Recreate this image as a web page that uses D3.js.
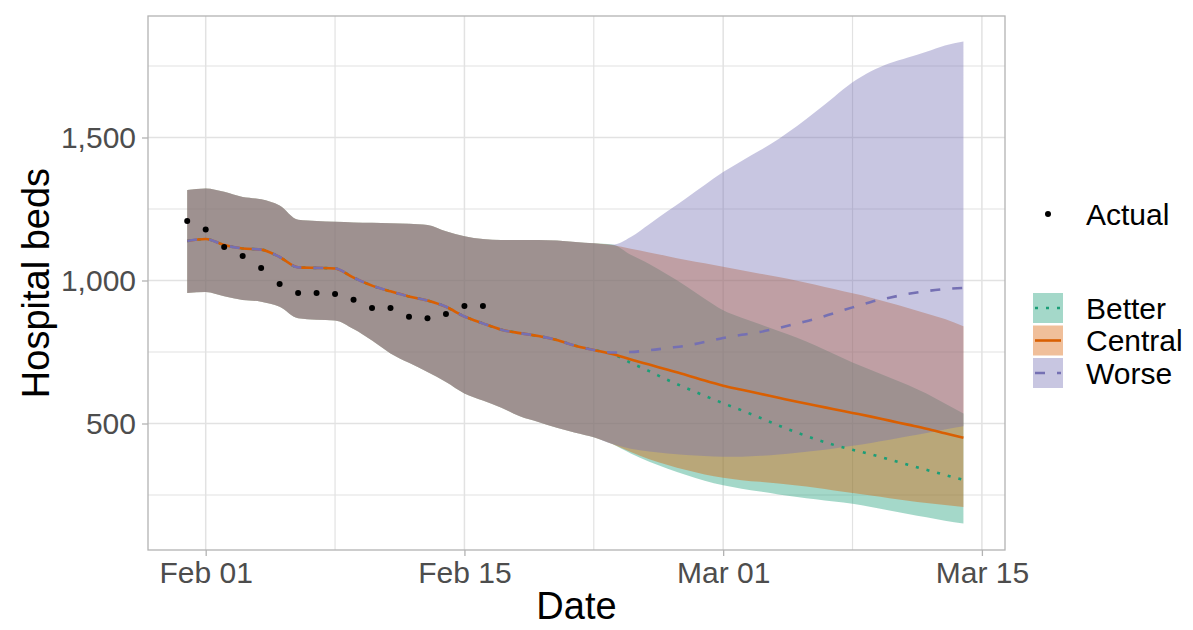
<!DOCTYPE html>
<html>
<head>
<meta charset="utf-8">
<script src="https://cdn.jsdelivr.net/npm/d3@7"></script>
<style>
  html, body { margin: 0; padding: 0; background: #ffffff; }
  svg { display: block; font-family: "Liberation Sans", Arial, sans-serif; }
</style>
</head>
<body>
<svg id="chart" width="1193" height="630"></svg>
<script>
// ---------------- DATA ----------------
const dates = [
  "2021-01-31","2021-02-01","2021-02-02","2021-02-03","2021-02-04","2021-02-05","2021-02-06",
  "2021-02-07","2021-02-08","2021-02-09","2021-02-10","2021-02-11","2021-02-12","2021-02-13",
  "2021-02-14","2021-02-15","2021-02-16","2021-02-17","2021-02-18","2021-02-19","2021-02-20",
  "2021-02-21","2021-02-22",
  "2021-02-23","2021-02-24","2021-02-25","2021-02-26","2021-02-27","2021-02-28","2021-03-01",
  "2021-03-02","2021-03-03","2021-03-04","2021-03-05","2021-03-06","2021-03-07","2021-03-08",
  "2021-03-09","2021-03-10","2021-03-11","2021-03-12","2021-03-13","2021-03-14"
];

// Shared fitted period (Jan 31 - Feb 22), identical for all scenarios
const sharedMedian = [1138,1145,1124,1112,1108,1082,1046,1044,1042,1010,982,962,944,930,908,874,850,828,816,806,792,772,757];
const sharedLower  = [956,960,945,932,926,908,868,863,860,830,790,745,712,680,645,605,580,555,525,505,485,468,452];
const sharedUpper  = [1316,1322,1310,1292,1284,1262,1212,1208,1205,1203,1202,1200,1198,1194,1172,1155,1145,1142,1142,1142,1140,1135,1130];

// Projection period (Feb 23 - Mar 14)
const betterMedian  = [743,712,683,652,624,597,571,546,520,493,468,445,425,408,392,374,356,338,320,303];
const betterLower   = [428,395,366,342,320,300,284,272,262,252,243,235,227,219,208,196,184,172,160,150];
const betterUpper   = [1126,1090,1058,1020,980,936,896,870,847,823,800,773,743,713,687,661,635,605,570,535];

const centralMedian = [743,724,706,688,670,650,632,618,604,590,576,563,550,537,524,510,496,482,466,450];
const centralLower  = [428,400,375,355,337,322,310,302,296,290,283,275,266,257,248,239,230,222,215,208];
const centralUpper  = [1124,1111,1098,1085,1072,1060,1048,1036,1024,1012,999,985,970,955,940,922,904,885,865,840];

const worseMedian   = [748,750,756,764,772,785,799,810,820,834,850,866,886,906,925,940,953,963,970,974];
const worseLower    = [428,412,402,395,390,386,384,384,387,392,398,405,413,422,432,443,455,467,479,490];
const worseUpper    = [1125,1152,1197,1243,1288,1334,1379,1418,1455,1495,1540,1590,1642,1693,1732,1760,1780,1800,1822,1836];

const actualDates  = ["2021-01-31","2021-02-01","2021-02-02","2021-02-03","2021-02-04","2021-02-05","2021-02-06",
                      "2021-02-07","2021-02-08","2021-02-09","2021-02-10","2021-02-11","2021-02-12","2021-02-13",
                      "2021-02-14","2021-02-15","2021-02-16"];
const actualValues = [1208,1178,1117,1086,1044,988,956,956,953,933,904,904,873,868,883,911,911];

const scenarioNames = ["Better","Central","Worse"];
const scenarioColors = ["#1B9E77","#D95F02","#7570B3"];
const xTickDates  = ["2021-02-01","2021-02-15","2021-03-01","2021-03-15"];
const xTickLabels = ["Feb 01","Feb 15","Mar 01","Mar 15"];
const xMinorDates = ["2021-02-08","2021-02-22","2021-03-08"];
const yTicks = [500,1000,1500];
const yMinor = [250,750,1250,1750];

// ---------------- BUILD ----------------
const parse = d3.timeParse("%Y-%m-%d");
const dateObjs = dates.map(parse);

function series(median, lower, upper) {
  const m = sharedMedian.concat(median), l = sharedLower.concat(lower), u = sharedUpper.concat(upper);
  return dateObjs.map((d, i) => ({date: d, median: m[i], lower: l[i], upper: u[i]}));
}
const scenarios = [
  {name: scenarioNames[0], color: scenarioColors[0], data: series(betterMedian, betterLower, betterUpper), dash: "3,8"},
  {name: scenarioNames[1], color: scenarioColors[1], data: series(centralMedian, centralLower, centralUpper), dash: null},
  {name: scenarioNames[2], color: scenarioColors[2], data: series(worseMedian, worseLower, worseUpper), dash: "10,12"}
];

const panel = {left: 148, top: 16, right: 1005, bottom: 550};
const feb1 = parse("2021-02-01");
const dayMs = 86400000;
const x = d3.scaleTime()
  .domain([new Date(feb1.getTime() - 3.122 * dayMs), new Date(feb1.getTime() + 43.25 * dayMs)])
  .range([panel.left, panel.right]);
const y = d3.scaleLinear().domain([57.7, 1924.8]).range([panel.bottom, panel.top]);

const svg = d3.select("#chart");
const g = svg.append("g");

// gridlines
const gridColor = "#e2e2e2";
g.selectAll(".ymin").data(yMinor).enter().append("line")
  .attr("x1", panel.left).attr("x2", panel.right)
  .attr("y1", d => y(d)).attr("y2", d => y(d))
  .attr("stroke", gridColor).attr("stroke-width", 1.2);
g.selectAll(".ymaj").data(yTicks).enter().append("line")
  .attr("x1", panel.left).attr("x2", panel.right)
  .attr("y1", d => y(d)).attr("y2", d => y(d))
  .attr("stroke", gridColor).attr("stroke-width", 1.5);
g.selectAll(".xmin").data(xMinorDates.map(parse)).enter().append("line")
  .attr("y1", panel.top).attr("y2", panel.bottom)
  .attr("x1", d => x(d)).attr("x2", d => x(d))
  .attr("stroke", gridColor).attr("stroke-width", 1.2);
g.selectAll(".xmaj").data(xTickDates.map(parse)).enter().append("line")
  .attr("y1", panel.top).attr("y2", panel.bottom)
  .attr("x1", d => x(d)).attr("x2", d => x(d))
  .attr("stroke", gridColor).attr("stroke-width", 1.5);

// ribbons
const area = d3.area().x(d => x(d.date)).y0(d => y(d.lower)).y1(d => y(d.upper)).curve(d3.curveMonotoneX);
scenarios.forEach(s => {
  g.append("path").datum(s.data).attr("d", area)
    .attr("fill", s.color).attr("fill-opacity", 0.4).attr("stroke", "none");
});

// median lines
const line = d3.line().x(d => x(d.date)).y(d => y(d.median)).curve(d3.curveMonotoneX);
scenarios.forEach(s => {
  const p = g.append("path").datum(s.data).attr("d", line)
    .attr("fill", "none").attr("stroke", s.color).attr("stroke-width", 2.6);
  if (s.dash) p.attr("stroke-dasharray", s.dash);
});

// actual points
g.selectAll(".pt").data(actualDates.map((d, i) => ({date: parse(d), v: actualValues[i]})))
  .enter().append("circle")
  .attr("cx", d => x(d.date)).attr("cy", d => y(d.v)).attr("r", 3).attr("fill", "#000");

// panel border
g.append("rect").attr("x", panel.left).attr("y", panel.top)
  .attr("width", panel.right - panel.left).attr("height", panel.bottom - panel.top)
  .attr("fill", "none").attr("stroke", "#b3b3b3").attr("stroke-width", 1.3);

// axes
const xAxis = d3.axisBottom(x).tickValues(xTickDates.map(parse))
  .tickFormat((d, i) => xTickLabels[i]).tickSize(6).tickPadding(6);
const xg = svg.append("g").attr("transform", `translate(0,${panel.bottom})`).call(xAxis);
xg.select(".domain").remove();
xg.selectAll(".tick line").attr("stroke", "#b3b3b3").attr("stroke-width", 1.3);
xg.selectAll(".tick text").attr("fill", "#4d4d4d").attr("font-size", 30)
  .attr("font-family", "'Liberation Sans', Arial, sans-serif");

const yAxis = d3.axisLeft(y).tickValues(yTicks).tickFormat(d3.format(",")).tickSize(6).tickPadding(6);
const yg = svg.append("g").attr("transform", `translate(${panel.left},0)`).call(yAxis);
yg.select(".domain").remove();
yg.selectAll(".tick line").attr("stroke", "#b3b3b3").attr("stroke-width", 1.3);
yg.selectAll(".tick text").attr("fill", "#4d4d4d").attr("font-size", 30)
  .attr("font-family", "'Liberation Sans', Arial, sans-serif");

// axis titles
svg.append("text").attr("x", (panel.left + panel.right) / 2).attr("y", 619)
  .attr("text-anchor", "middle").attr("font-size", 38).attr("fill", "#000").text("Date");
svg.append("text").attr("transform", `translate(36,${(panel.top + panel.bottom) / 2}) rotate(-90)`)
  .attr("text-anchor", "middle").attr("dominant-baseline", "central")
  .attr("font-size", 38).attr("fill", "#000").text("Hospital beds");

// legend: Actual
const lg = svg.append("g");
lg.append("circle").attr("cx", 1048).attr("cy", 214).attr("r", 3).attr("fill", "#000");
lg.append("text").attr("x", 1086).attr("y", 214).attr("dominant-baseline", "central")
  .attr("font-size", 30).attr("fill", "#000").text("Actual");

// legend: scenarios
const keyTop = 293, keyStep = 32.5, keySize = 30, keyX = 1033;
scenarios.forEach((s, i) => {
  const ky = keyTop + i * keyStep;
  lg.append("rect").attr("x", keyX).attr("y", ky).attr("width", keySize).attr("height", keySize)
    .attr("fill", s.color).attr("fill-opacity", 0.4);
  const l = lg.append("line").attr("x1", keyX + 2).attr("x2", keyX + keySize - 2)
    .attr("y1", ky + keySize / 2).attr("y2", ky + keySize / 2)
    .attr("stroke", s.color).attr("stroke-width", 2.6);
  if (s.dash) l.attr("stroke-dasharray", s.dash);
  lg.append("text").attr("x", 1086).attr("y", ky + keySize / 2).attr("dominant-baseline", "central")
    .attr("font-size", 30).attr("fill", "#000").text(s.name);
});
</script>
</body>
</html>
